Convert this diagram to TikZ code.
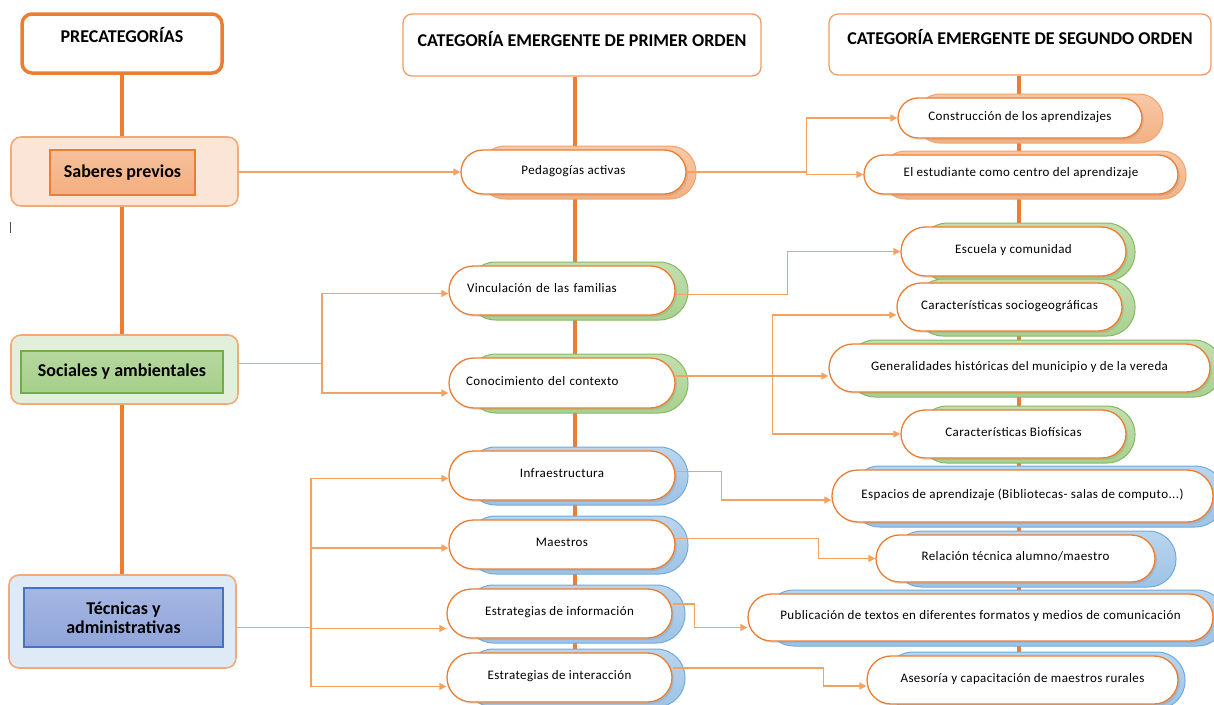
\documentclass[tikz,border=0pt]{standalone}
\usepackage{fontspec}
\setmainfont{Carlito}
\usetikzlibrary{arrows.meta,calc,shadows}
\definecolor{org}{HTML}{ED7D31}
\definecolor{connc}{HTML}{F4A262}
\definecolor{peach}{HTML}{FBE5D6}
\definecolor{salm}{HTML}{F4B183}
\definecolor{grnl}{HTML}{E2EFDA}
\definecolor{grn}{HTML}{70AD47}
\definecolor{grnf}{HTML}{A9D18E}
\definecolor{blul}{HTML}{DEEBF7}
\definecolor{blu}{HTML}{5B9BD5}
\definecolor{bluf}{HTML}{9DC3E6}
\definecolor{indf}{HTML}{97AADC}
\definecolor{ind}{HTML}{4472C4}
\newcommand\pilltext{\fontsize{13}{15}\selectfont\addfontfeature{LetterSpace=3}}
\newcommand\boldtext{\bfseries\fontsize{18}{21}\selectfont}
\tikzset{
  vline/.style={draw=org, line width=4pt},
  hdr/.style={draw=org!75, line width=1.3pt, fill=white, rounded corners=9pt, font=\boldtext},
  outerbox/.style={draw=org!65, line width=1.6pt, rounded corners=10pt},
  innerbox/.style={line width=2pt, font=\boldtext, align=center},
  pillbox/.style={draw=org, line width=1.3pt, fill=white, font=\pilltext, inner sep=0pt,
    text height=10pt, text depth=6pt,
    drop shadow={opacity=0.2, shadow xshift=2pt, shadow yshift=-2pt}},
  conn/.style={draw=connc, line width=1.4pt, -{Triangle[length=7pt,width=7pt]}},
  connl/.style={draw=connc, line width=1.4pt},
  shorg/.style={top color=salm!70, bottom color=salm, draw=org!70, line width=1pt},
  shgrn/.style={top color=grnf!70, bottom color=grnf, draw=grn!85, line width=1pt},
  shblu/.style={top color=bluf!70, bottom color=bluf, draw=blu!85, line width=1pt},
}
% name, x1, y1, x2, y2, shadow style, text, node options, shadow right extension
\newcommand\pill[9]{%
  \pgfmathsetmacro\pilH{#5-#3}%
  \pgfmathsetmacro\pilW{#4-#2}%
  \pgfmathsetmacro\pilR{\pilH/2}%
  \pgfmathsetmacro\pilS{\pilH/2+4}%
  \draw[#6, rounded corners=\pilS pt] (#2+18,#3-4) rectangle (#4+#9,#5+5);
  \node[pillbox, minimum width=\pilW pt, minimum height=\pilH pt, rounded corners=\pilR pt, #8] (#1) at ({(#2+#4)/2},{(#3+#5)/2}) {#7};
}
\begin{document}
\begin{tikzpicture}[x=1pt,y=-1pt]
\useasboundingbox (0,0) rectangle (1214,704);
\clip (0,0) rectangle (1214,704);
\fill[white] (0,0) rectangle (1214,704);

% headers
\node[draw=org, line width=3.5pt, fill=white, rounded corners=10pt, font=\boldtext,
  minimum width=200pt, minimum height=59pt, text depth=17pt] (pre) at (122,43.5) {PRECATEGORÍAS};
\node[hdr, minimum width=358pt, minimum height=62pt, text depth=12pt] (mh) at (582,45) {CATEGORÍA EMERGENTE DE PRIMER ORDEN};
\node[hdr, minimum width=382pt, minimum height=61pt, text depth=15pt] (rh) at (1020,44.5) {CATEGORÍA EMERGENTE DE SEGUNDO ORDEN};

% vertical spines
\draw[vline] (pre.south) -- (122,575);
\draw[vline] ([xshift=-7pt]mh.south) -- ++(0,620);
\draw[vline] ([xshift=-1pt]rh.south) -- ++(0,640);

% cursor mark
\draw[black!70, line width=1pt] (10,222) -- (10,233);

% left column
\node[outerbox, fill=peach, minimum width=227pt, minimum height=69pt] (sabo) at (124.5,171.5) {};
\node[innerbox, draw=org, top color=salm!80, bottom color=salm!95!org, minimum width=145pt, minimum height=45pt] (sab) at (122.5,172.5) {Saberes previos};
\node[outerbox, fill=grnl, minimum width=227pt, minimum height=69pt] (soco) at (124.5,369.5) {};
\node[innerbox, draw=grn, top color=grnf!85, bottom color=grnf!95!grn, minimum width=202pt, minimum height=42pt] (soc0) at (122,372) {Sociales y ambientales};
\node[outerbox, fill=blul, minimum width=227pt, minimum height=93pt] (teco) at (122.5,621.5) {};
\node[innerbox, draw=ind, top color=indf!85, bottom color=indf!90!ind, minimum width=199pt, minimum height=59pt] (tec) at (123.5,617.5) {Técnicas y\\[-2pt]administrativas};

% middle column pills
\pill{ped}{461}{150}{686}{194}{shorg}{Pedagogías activas}{}{10}
\pill{vin}{449}{266}{675}{315}{shgrn}{Vinculación de las familias}{text width=190pt, align=left}{13}
\pill{con}{449}{358}{675}{408}{shgrn}{Conocimiento del contexto}{text width=192pt, align=left}{13}
\pill{inf}{449}{451}{675}{500}{shblu}{Infraestructura}{}{13}
\pill{mae}{449}{520}{675}{569}{shblu}{Maestros}{}{13}
\pill{einf}{447}{589}{672}{638}{shblu}{Estrategias de información}{}{13}
\pill{eint}{447}{653}{672}{702}{shblu}{Estrategias de interacción}{}{13}

% right column pills
\pill{cons}{898}{98}{1142}{138}{shorg}{Construcción de los aprendizajes}{}{21}
\pill{est}{864}{155}{1178}{194}{shorg}{El estudiante como centro del aprendizaje}{}{8}
\pill{esc}{901}{227}{1126}{276}{shgrn}{Escuela y comunidad}{}{9}
\pill{soc}{897}{283}{1122}{331}{shgrn}{Características sociogeográficas}{}{13}
\pill{gen}{829}{344}{1210}{392}{shgrn}{Generalidades históricas del municipio y de la vereda}{}{12}
\pill{bio}{901}{410}{1126}{458}{shgrn}{Características Biofísicas}{}{9}
\pill{esp}{832}{470}{1213}{522}{shblu}{Espacios de aprendizaje (Bibliotecas- salas de computo...)}{}{12}
\pill{rel}{876}{535}{1155}{582}{shblu}{Relación técnica alumno/maestro}{}{21}
\pill{pub}{748}{594}{1213}{641}{shblu}{Publicación de textos en diferentes formatos y medios de comunicación}{}{12}
\pill{ase}{867}{656}{1178}{704}{shblu}{Asesoría y capacitación de maestros rurales}{}{7}

% connectors
\draw[conn] (sabo.east |- ped.west) -- (ped.west);
\draw[connl] (ped.east) -- ++(120,0) coordinate (b1);
\draw[conn] (b1) |- (cons.west);
\draw[conn] (b1) |- (est.west);

\draw[connl] ([yshift=6pt]soco.east) -- ++(83,0) coordinate (b2);
\draw[conn] (b2) |- ([yshift=-3pt]vin.west);
\draw[conn] (b2) |- ([yshift=-10pt]con.west);

\draw[conn] ([yshift=-4pt]vin.east) -- ++(112,0) |- (esc.west);

\coordinate (cb) at ([yshift=7pt]con.east);
\draw[conn] (cb) -- (cb -| gen.west);
\coordinate (cbx) at ([xshift=97pt]cb);
\draw[conn] (cbx) |- ([yshift=-8pt]soc.west);
\draw[conn] (cbx) |- (bio.west);

\draw[connl] ([yshift=-6pt]teco.east) -- ++(74,0) coordinate (b3);
\draw[conn] (b3) |- ([yshift=-3pt]inf.west);
\draw[conn] (b3) |- ([yshift=-3.5pt]mae.west);
\draw[conn] (b3) |- ([yshift=-15pt]einf.west);
\draw[conn] (b3) |- ([yshift=-9pt]eint.west);

\draw[conn] ([yshift=4pt]inf.east) -- ++(46,0) |- ([yshift=-4pt]esp.west);
\draw[conn] ([yshift=6pt]mae.east) -- ++(143,0) |- (rel.west);
\draw[conn] ([yshift=9.5pt]einf.east) -- ++(22,0) |- ([yshift=-10pt]pub.west);
\draw[conn] ([yshift=9.5pt]eint.east) -- ++(151,0) |- ([yshift=-6pt]ase.west);
\end{tikzpicture}
\end{document}
